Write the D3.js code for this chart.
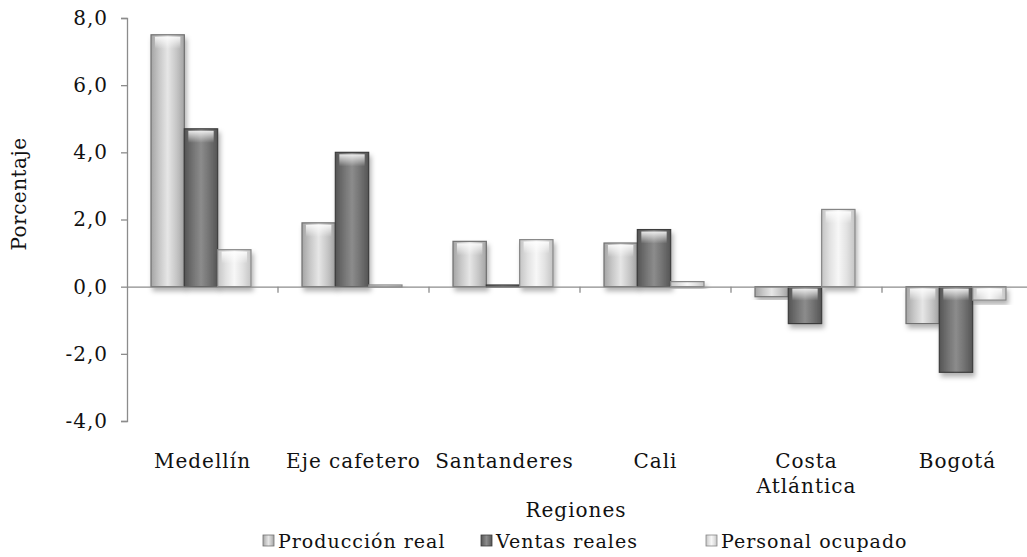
<!DOCTYPE html>
<html>
<head>
<meta charset="utf-8">
<script src="https://cdn.jsdelivr.net/npm/d3@7"></script>
<style>
  body { margin: 0; background: #fff; }
  svg { display: block; font-family: "DejaVu Serif", serif; }
</style>
</head>
<body>
<svg id="chart" width="1027" height="557"></svg>
<script>
const categories = ["Medellín", "Eje cafetero", "Santanderes", "Cali", "Costa Atlántica", "Bogotá"]
const seriesNames = ["Producción real", "Ventas reales", "Personal ocupado"]
const produccion = [7.5, 1.9, 1.35, 1.3, -0.3, -1.1]
const ventas = [4.7, 4.0, 0.05, 1.7, -1.1, -2.55]
const personal = [1.1, 0.05, 1.4, 0.15, 2.3, -0.4]
const yTicks = [-4, -2, 0, 2, 4, 6, 8]

const width = 1027
const height = 557
const plotLeft = 127
const plotTop = 18
const plotBottom = 421
const band = 151

const svg = d3.select('#chart')

const xScale = d3.scaleBand()
  .domain(categories)
  .range([plotLeft, plotLeft + band * categories.length])

const xSub = d3.scaleBand()
  .domain(seriesNames)
  .range([24, 124])

const yScale = d3.scaleLinear()
  .domain([-4, 8])
  .range([plotBottom, plotTop])

const fmt = v => d3.format('.1f')(v).replace('.', ',').replace('\u2212', '-')

// gradients per series
const defs = svg.append('defs')
const styles = [
  { edge: '#a4a4a4', mid: '#c8c8c8', hi: '#e6e6e6', stroke: '#707070' },
  { edge: '#555555', mid: '#727272', hi: '#8c8c8c', stroke: '#3c3c3c' },
  { edge: '#c4c4c4', mid: '#e2e2e2', hi: '#f7f7f7', stroke: '#858585' }
]
styles.forEach((s, i) => {
  const g = defs.append('linearGradient')
    .attr('id', 'grad' + i)
    .attr('x1', 0).attr('x2', 1).attr('y1', 0).attr('y2', 0)
  g.append('stop').attr('offset', '0%').attr('stop-color', s.edge)
  g.append('stop').attr('offset', '25%').attr('stop-color', s.mid)
  g.append('stop').attr('offset', '50%').attr('stop-color', s.hi)
  g.append('stop').attr('offset', '75%').attr('stop-color', s.mid)
  g.append('stop').attr('offset', '100%').attr('stop-color', s.edge)
})
const shine = defs.append('linearGradient')
  .attr('id', 'shine')
  .attr('x1', 0).attr('x2', 0).attr('y1', 0).attr('y2', 1)
shine.append('stop').attr('offset', '0%').attr('stop-color', '#fff').attr('stop-opacity', 0.85)
shine.append('stop').attr('offset', '100%').attr('stop-color', '#fff').attr('stop-opacity', 0)

const shadow = defs.append('filter').attr('id', 'shadow')
  .attr('x', '-20%').attr('y', '-20%').attr('width', '150%').attr('height', '150%')
shadow.append('feDropShadow')
  .attr('dx', 2).attr('dy', 4).attr('stdDeviation', 2.5)
  .attr('flood-color', '#000').attr('flood-opacity', 0.3)

// y axis
const yAxis = d3.axisLeft(yScale)
  .tickValues(yTicks)
  .tickFormat(fmt)
  .tickSize(6)
  .tickSizeOuter(6)

const yG = svg.append('g')
  .attr('transform', `translate(${plotLeft}, 0)`)
  .call(yAxis)
yG.select('.domain').attr('stroke', '#8c8c8c').attr('stroke-width', 1.3)
yG.selectAll('.tick line').attr('stroke', '#8c8c8c').attr('stroke-width', 1.3)
yG.selectAll('.tick text')
  .attr('x', -19)
  .attr('font-family', '"DejaVu Serif", serif')
  .attr('font-size', 20)
  .attr('letter-spacing', 1)
  .attr('fill', '#111')

// bars
const data = [produccion, ventas, personal]
data.forEach((vals, si) => {
  const g = svg.append('g')
  const bx = (d, i) => xScale(categories[i]) + xSub(seriesNames[si])
  const by = d => yScale(Math.max(0, d))
  const bh = d => Math.max(2, Math.abs(yScale(d) - yScale(0)))
  g.selectAll('rect.bar')
    .data(vals)
    .enter()
    .append('rect')
    .attr('class', 'bar')
    .attr('x', bx)
    .attr('y', by)
    .attr('width', xSub.bandwidth())
    .attr('height', bh)
    .attr('fill', `url(#grad${si})`)
    .attr('stroke', styles[si].stroke)
    .attr('stroke-width', 1.2)
    .attr('filter', 'url(#shadow)')
  g.selectAll('rect.shine')
    .data(vals.filter(d => Math.abs(d) > 0.3))
    .enter()
    .append('rect')
    .attr('class', 'shine')
    .attr('x', d => bx(d, vals.indexOf(d)) + 4)
    .attr('y', d => by(d) + 2)
    .attr('width', xSub.bandwidth() - 8)
    .attr('height', d => Math.min(12, bh(d) - 4))
    .attr('fill', 'url(#shine)')
})

// zero line with category ticks
const xAxis = d3.axisBottom(xScale)
  .tickValues([])
  .tickSizeOuter(0)
const xG = svg.append('g')
  .attr('transform', `translate(0, ${yScale(0)})`)
  .call(xAxis)
xG.select('.domain').attr('stroke', '#8c8c8c').attr('stroke-width', 1.3)
  .attr('d', `M${plotLeft},0.5H${width}`)
xG.selectAll('line.sep')
  .data(categories.slice(1))
  .enter()
  .append('line')
  .attr('class', 'sep')
  .attr('x1', d => xScale(d)).attr('x2', d => xScale(d))
  .attr('y1', 0).attr('y2', 6)
  .attr('stroke', '#8c8c8c').attr('stroke-width', 1.3)

// category labels
const labels = svg.append('g')
  .selectAll('text')
  .data(categories)
  .enter()
  .append('text')
  .attr('x', d => xScale(d) + band / 2)
  .attr('y', 468)
  .attr('text-anchor', 'middle')
  .attr('font-size', 20)
  .attr('letter-spacing', 1)
  .attr('fill', '#111')
  .text(d => d)

labels.each(function (d) {
  const t = d3.select(this)
  if (this.getComputedTextLength() > band) {
    const words = d.split(' ')
    t.text(null)
    words.forEach((w, k) => {
      t.append('tspan')
        .attr('x', xScale(d) + band / 2)
        .attr('dy', k === 0 ? 0 : 25)
        .text(w)
    })
  }
})

// axis titles
svg.append('text')
  .attr('x', plotLeft + 3 * band - 4)
  .attr('y', 517)
  .attr('text-anchor', 'middle')
  .attr('font-size', 20)
  .attr('letter-spacing', 1)
  .attr('fill', '#111')
  .text('Regiones')

svg.append('text')
  .attr('transform', 'translate(26, 194) rotate(-90)')
  .attr('text-anchor', 'middle')
  .attr('font-size', 20)
  .attr('letter-spacing', 0.5)
  .attr('fill', '#111')
  .text('Porcentaje')

// legend
const legendX = [263, 481, 706]
const legend = svg.append('g')
  .selectAll('g')
  .data(seriesNames)
  .enter()
  .append('g')
  .attr('transform', (d, i) => `translate(${legendX[i]}, 548)`)
legend.append('rect')
  .attr('x', 0).attr('y', -13)
  .attr('width', 11).attr('height', 11)
  .attr('fill', (d, i) => `url(#grad${i})`)
  .attr('stroke', (d, i) => styles[i].stroke)
  .attr('stroke-width', 0.8)
legend.append('text')
  .attr('x', 15)
  .attr('y', 0)
  .attr('font-size', 19)
  .attr('letter-spacing', 1)
  .attr('fill', '#111')
  .text(d => d)
</script>
</body>
</html>
